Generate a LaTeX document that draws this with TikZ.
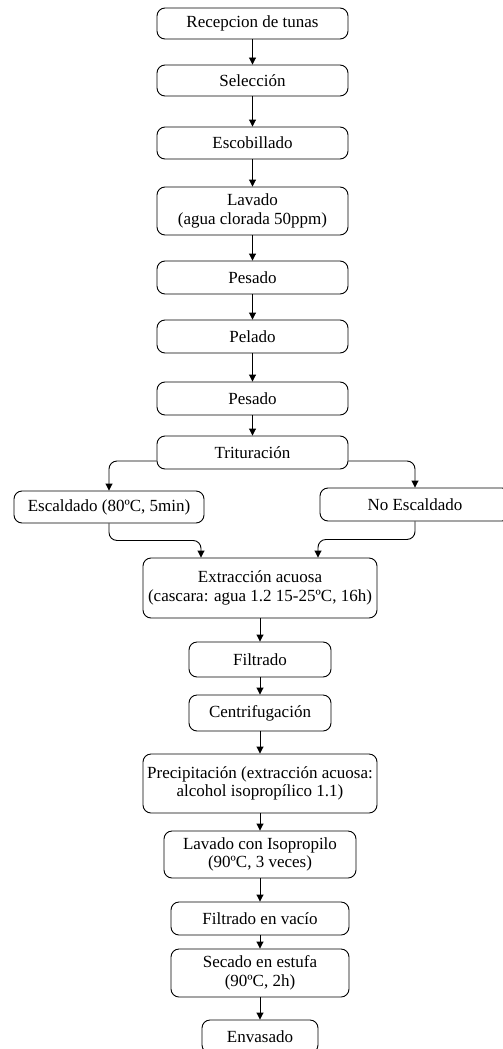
\documentclass[tikz,border=0pt]{standalone}
\usepackage{fontspec}
\setmainfont{Liberation Serif}
\usetikzlibrary{arrows.meta}
\begin{document}
\begin{tikzpicture}[x=1pt,y=-1pt,
  box/.style={draw, line width=0.9pt, rounded corners=8pt, inner sep=0pt,
    align=center, font=\fontsize{17}{18.5}\selectfont},
  arr/.style={line width=0.9pt, -{Triangle[length=7pt,width=7pt]}},
  elbow/.style={arr, rounded corners=8pt}]
\useasboundingbox (0,0) rectangle (503,1049);
\clip (0,0) rectangle (503,1049);

% main chain, upper part
\node[box, minimum width=191, minimum height=31] (rec) at (252.5,23.5) {Recepcion de tunas};
\node[box, minimum width=191, minimum height=31] (sel) at (252.5,80.5) {Selección};
\node[box, minimum width=191, minimum height=32] (esb) at (252.5,143) {Escobillado};
\node[box, minimum width=191, minimum height=48] (lav) at (252.5,211) {Lavado\\(agua clorada 50ppm)};
\node[box, minimum width=191, minimum height=33] (pes1) at (252.5,277.5) {Pesado};
\node[box, minimum width=191, minimum height=33] (pel) at (252.5,336.5) {Pelado};
\node[box, minimum width=191, minimum height=33] (pes2) at (252.5,398.5) {Pesado};
\node[box, minimum width=191, minimum height=33] (tri) at (252.5,452.5) {Trituración};

% the two branches
\node[box, minimum width=190, minimum height=32] (esc) at (109,507) {Escaldado (80ºC, 5min)};
\node[box, minimum width=190, minimum height=33] (nesc) at (415,504.5) {No Escaldado};

% main chain, lower part
\node[box, minimum width=234, minimum height=60] (ext) at (260,588) {Extracción acuosa\\(cascara: agua 1.2 15-25ºC, 16h)};
\node[box, minimum width=142, minimum height=35] (fil) at (260,659.5) {Filtrado};
\node[box, minimum width=142, minimum height=36] (cen) at (260,713) {Centrifugación};
\node[box, minimum width=234, minimum height=59] (pre) at (260,783.5) {Precipitación (extracción acuosa:\\alcohol isopropílico 1.1)};
\node[box, minimum width=192, minimum height=47] (lci) at (260,854.5) {Lavado con Isopropilo\\(90ºC, 3 veces)};
\node[box, minimum width=178, minimum height=33] (fv) at (260,918.5) {Filtrado en vacío};
\node[box, minimum width=178, minimum height=48] (sec) at (260,973) {Secado en estufa\\(90ºC, 2h)};
\node[box, minimum width=116, minimum height=33] (env) at (260,1036.5) {Envasado};

% straight connectors
\draw[arr] (rec) -- (sel);
\draw[arr] (sel) -- (esb);
\draw[arr] (esb) -- (lav);
\draw[arr] (lav) -- (pes1);
\draw[arr] (pes1) -- (pel);
\draw[arr] (pel) -- (pes2);
\draw[arr] (pes2) -- (tri);
\draw[arr] (ext) -- (fil);
\draw[arr] (fil) -- (cen);
\draw[arr] (cen) -- (pre);
\draw[arr] (pre) -- (lci);
\draw[arr] (lci) -- (fv);
\draw[arr] (fv) -- (sec);
\draw[arr] (sec) -- (env);

% branching connectors
\draw[elbow] ([yshift=-8.5pt]tri.west) -| (esc.north);
\draw[elbow] ([yshift=-8.5pt]tri.east) -| (nesc.north);
\draw[elbow] (esc.south) -- ++(0,17) -| ([xshift=-59pt]ext.north);
\draw[elbow] (nesc.south) -- ++(0,18) -| ([xshift=58pt]ext.north);
\end{tikzpicture}
\end{document}
